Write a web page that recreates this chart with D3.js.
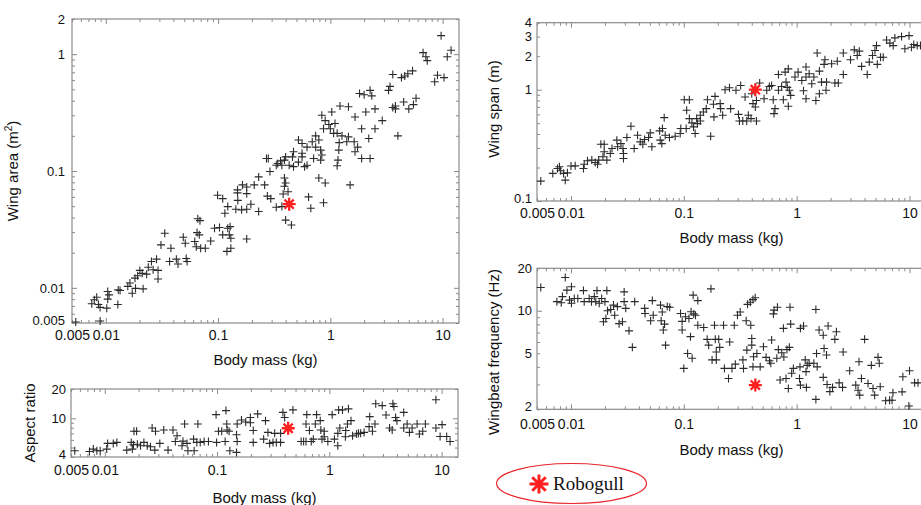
<!DOCTYPE html>
<html>
<head>
<meta charset="utf-8">
<script src="https://cdn.jsdelivr.net/npm/d3@7"></script>
<style>
  body { margin: 0; background: #fff; }
  text { font-family: "Liberation Sans", Arial, sans-serif; fill: #111; }
</style>
</head>
<body>
<svg id="fig" width="921" height="505"></svg>
<script>
// [body mass (kg), value]
const wingArea = [
  [9.7,1.44],[11.9,1.08],[11,0.95],[6.7,1.03],[7.1,0.95],[7.3,0.88],[8.5,0.58],[9.0,0.66],[10.3,0.63],
  [3.6,0.67],[4.3,0.63],[4.6,0.65],[4.9,0.68],[5.4,0.72],[3.3,0.49],[3.4,0.53],[3.8,0.36],[3.8,0.34],[3.6,0.35],
  [4.5,0.39],[5.0,0.34],[5.5,0.37],[5.8,0.42],[4.0,0.20],
  [1.82,0.46],[2.0,0.45],[2.26,0.49],[2.34,0.44],[2.07,0.32],[2.5,0.34],[2.9,0.27],[2.5,0.23],[1.9,0.23],[2.2,0.19],[1.9,0.128],[2.26,0.128],
  [1.22,0.36],[1.45,0.355],[1.03,0.32],[1.66,0.29],[0.84,0.30],[0.90,0.27],[0.97,0.25],[1.1,0.255],[1.0,0.23],[0.87,0.23],[1.07,0.21],[1.15,0.21],
  [1.27,0.20],[1.45,0.196],[1.2,0.175],[1.4,0.178],[1.63,0.178],[1.75,0.16],[1.66,0.146],[1.19,0.151],[1.15,0.111],[1.17,0.124],
  [1.5,0.076],[0.90,0.079],[0.79,0.087],
  [0.69,0.178],[0.74,0.20],[0.79,0.184],[0.62,0.16],[0.74,0.16],[0.82,0.151],[0.71,0.128],[0.84,0.137],[0.82,0.124],[0.62,0.112],[0.59,0.109],
  [0.56,0.142],[0.52,0.184],[0.56,0.172],[0.47,0.146],[0.46,0.132],[0.56,0.132],[0.52,0.119],[0.47,0.109],[0.43,0.112],[0.40,0.132],[0.39,0.124],
  [0.37,0.112],[0.34,0.116],[0.29,0.099],[0.33,0.112],[0.36,0.122],[0.27,0.128],[0.28,0.128],[0.39,0.087],[0.40,0.079],[0.39,0.074],
  [0.23,0.089],[0.21,0.076],[0.26,0.076],[0.18,0.073],[0.165,0.076],[0.149,0.069],
  [0.099,0.062],[0.11,0.058],[0.149,0.065],[0.18,0.064],[0.15,0.056],[0.196,0.052],[0.122,0.0496],[0.115,0.0435],[0.144,0.047],[0.162,0.0465],
  [0.18,0.047],[0.23,0.045],[0.275,0.061],[0.295,0.058],[0.33,0.049],[0.37,0.0496],[0.38,0.0635],[0.42,0.0665],[0.40,0.038],[0.45,0.0345],
  [0.64,0.060],[0.67,0.048],[0.87,0.0535],
  [0.066,0.039],[0.069,0.0376],[0.065,0.0297],[0.068,0.0284],[0.062,0.0249],[0.064,0.0225],[0.07,0.0218],[0.077,0.0218],[0.086,0.0252],
  [0.093,0.0324],[0.103,0.0328],[0.11,0.0284],[0.122,0.0324],[0.128,0.0334],[0.126,0.0284],[0.13,0.0266],[0.13,0.0218],[0.12,0.0205],[0.18,0.0262],
  [0.049,0.0271],[0.051,0.0241],[0.0335,0.0293],[0.031,0.0233],[0.038,0.0218],[0.0425,0.0176],[0.037,0.0168],[0.044,0.016],[0.052,0.0178],[0.053,0.0168],
  [0.0255,0.0168],[0.0283,0.0176],[0.0292,0.0141],[0.0292,0.0119],[0.0239,0.015],[0.0264,0.0143],[0.0231,0.0131],[0.0201,0.0141],[0.0192,0.0127],
  [0.0211,0.0133],[0.0182,0.0121],[0.0164,0.011],[0.0184,0.0099],[0.0215,0.0098],[0.0172,0.009],[0.0157,0.0103],[0.0134,0.0095],[0.0129,0.0096],
  [0.0107,0.0087],[0.0104,0.0093],[0.0104,0.008],[0.0102,0.0067],[0.0128,0.0072],[0.0083,0.0083],[0.0079,0.0079],[0.0075,0.0073],[0.0086,0.0072],
  [0.0089,0.0068],[0.0089,0.0052],[0.0054,0.0051]
];

const aspectRatio = [
  [0.0054,4.64],[0.0073,4.56],[0.0079,4.82],[0.0085,4.64],[0.0091,4.64],[0.0104,4.82],[0.0106,5.52],[0.0119,5.52],[0.0128,5.65],[0.0157,4.71],
  [0.0176,4.82],[0.0172,5.65],[0.0182,7.35],[0.0192,7.35],[0.018,5.35],[0.0195,5.4],[0.0208,5.22],[0.0223,5.65],[0.0239,5.22],[0.0255,5.09],
  [0.0279,4.71],[0.0264,7.94],[0.0283,7.35],[0.0309,5.52],[0.0335,7.57],[0.0366,4.71],[0.0405,7.57],[0.0425,5.78],[0.044,6.62],[0.0487,5.22],
  [0.0497,5.82],[0.0514,8.74],[0.054,5.52],[0.055,4.64],[0.0618,6.1],[0.066,5.65],[0.0675,8.74],[0.0625,4.64],[0.0708,5.65],[0.0767,5.78],[0.0838,5.78],
  [0.098,10.9],[0.103,7.35],[0.11,7.35],[0.12,12],[0.122,8.74],[0.123,7.57],[0.128,7.35],[0.118,5.78],[0.099,5.65],[0.13,4.64],[0.149,4.46],
  [0.151,5.78],[0.149,6.78],[0.151,8.74],[0.165,9.6],[0.18,9.15],[0.198,10.2],[0.198,9.0],[0.21,7.5],[0.21,5.65],[0.23,11.1],[0.26,6.1],
  [0.27,9.46],[0.284,7.16],[0.294,5.52],[0.315,5.65],[0.326,7.0],[0.337,5.65],[0.368,5.65],[0.386,11.5],[0.40,10.2],[0.368,7.0],[0.474,12.2],
  [0.561,5.78],[0.59,5.78],[0.62,5.78],[0.62,8.74],[0.63,10.9],[0.665,7.5],[0.69,5.78],[0.72,6.1],[0.75,8.74],[0.77,10.9],[0.83,9.46],[0.86,6.1],
  [0.84,7.57],[0.90,7.35],[0.90,6.46],[0.97,5.78],[1.06,10.9],[1.11,6.1],[1.19,7.0],[1.19,5.22],[1.21,12.2],[1.31,12.2],[1.48,12.5],[1.24,7.94],
  [1.4,7.5],[1.45,8.74],[1.56,9.46],[1.39,6.46],[1.61,6.6],[1.75,6.9],[1.82,7.0],[1.9,7.0],[2.04,7.16],[2.26,8.2],[2.29,10.4],[2.42,7.35],
  [2.55,8.74],[2.59,14.1],[2.96,13.5],[3.2,10.8],[3.44,7.94],[3.63,7.57],[3.68,14.1],[3.76,13.2],[3.89,10.2],[4.0,9.46],[4.6,11.5],[4.6,7.94],
  [4.93,8.74],[5.17,7.16],[5.46,7.94],[6.05,8.74],[6.34,6.9],[6.79,7.35],[7.17,8.74],[8.9,15.5],[8.9,7.94],[9.7,6.5],[10.1,8.6],[11.1,6.5],[11.9,5.78]
];

const wingSpan = [
  [0.0054,0.151],[0.0069,0.177],[0.0076,0.196],[0.0079,0.203],[0.0081,0.187],[0.0086,0.177],[0.0089,0.154],[0.0093,0.179],[0.010,0.206],
  [0.0109,0.207],[0.0129,0.196],[0.0131,0.214],[0.014,0.23],[0.0153,0.233],[0.0164,0.222],[0.0172,0.214],[0.0176,0.233],[0.0192,0.25],
  [0.0184,0.324],[0.0197,0.324],[0.0197,0.277],[0.0208,0.233],[0.0223,0.267],[0.0231,0.296],[0.0255,0.352],[0.0259,0.307],[0.0277,0.328],
  [0.0289,0.296],[0.0292,0.267],[0.0292,0.241],[0.0313,0.372],[0.034,0.47],[0.0363,0.296],[0.0389,0.39],[0.0411,0.34],[0.0433,0.324],
  [0.0449,0.357],[0.0487,0.372],[0.0504,0.409],[0.0521,0.307],[0.061,0.427],[0.0618,0.352],[0.0638,0.328],[0.0647,0.448],[0.067,0.561],
  [0.0684,0.39],[0.0746,0.372],[0.0838,0.382],[0.0929,0.404],[0.094,0.448],
  [0.101,0.813],[0.112,0.813],[0.106,0.653],[0.105,0.448],[0.112,0.55],[0.118,0.503],[0.122,0.463],[0.126,0.404],[0.13,0.55],[0.132,0.496],
  [0.14,0.524],[0.14,0.589],[0.149,0.631],[0.158,0.676],[0.162,0.813],[0.173,0.382],[0.183,0.739],[0.189,0.871],[0.185,0.57],[0.21,0.75],
  [0.212,0.676],[0.221,0.589],[0.232,1.0],[0.254,1.04],[0.26,0.676],[0.29,0.99],[0.305,0.6],[0.319,1.09],[0.311,0.524],[0.333,0.524],
  [0.349,0.86],[0.361,0.524],[0.373,0.589],[0.394,0.55],[0.40,0.92],[0.41,0.75],[0.43,0.7],[0.44,0.524],[0.44,0.8],[0.47,1.15],
  [0.514,0.83],[0.543,0.99],[0.573,1.07],[0.60,1.09],[0.62,0.813],[0.643,0.676],[0.63,0.61],[0.69,0.99],[0.736,1.07],[0.762,0.813],[0.805,1.17],
  [0.826,1.05],[0.843,0.71],[0.861,0.99],[0.885,0.89],[0.69,1.37],[0.79,1.44],[0.843,1.54],[0.966,1.3],[1.03,1.44],[1.11,1.21],[1.15,0.98],
  [1.21,0.83],[1.21,1.6],[1.21,1.3],[1.29,1.39],[1.36,1.13],[1.42,1.3],[1.48,0.8],[1.52,2.14],[1.59,0.92],[1.59,1.47],[1.66,1.17],[1.75,1.69],
  [1.78,1.86],[1.82,0.99],[1.84,1.17],[2.04,1.71],[2.18,1.15],[2.29,1.8],[2.34,1.15],[2.59,1.37],[2.59,2.14],[3.0,1.86],[3.24,2.28],[3.44,2.03],
  [3.59,2.22],[3.76,1.62],[4.22,1.37],[4.4,1.77],[4.7,2.03],[4.94,2.25],[5.1,2.49],[5.18,1.69],[5.54,1.96],[5.85,1.96],[6.26,2.8],[6.7,2.62],
  [7.17,2.49],[7.42,2.92],[8.5,3.0],[9.1,2.33],[9.9,3.06],[10.4,2.41],[10.9,2.55],[11.7,2.49],[12.5,2.49]
];

const wingbeat = [
  [0.0054,14.6],[0.0075,11.6],[0.0082,11.4],[0.0084,12.6],[0.0089,17.2],[0.0092,14.0],[0.0097,11.9],[0.0101,14.8],[0.0101,11.3],[0.0107,12.2],
  [0.0115,12.2],[0.0129,13.9],[0.0131,11.6],[0.0145,12.2],[0.0152,11.6],[0.0161,12.6],[0.0166,11.6],[0.017,13.9],[0.0178,11.3],[0.0187,12.2],
  [0.0194,8.36],[0.02,11.6],[0.0204,8.8],[0.0208,13.9],[0.0211,10.0],[0.0225,10.2],[0.0238,10.97],[0.0244,9.3],[0.0258,10.7],[0.0267,8.1],
  [0.0286,8.35],[0.0296,13.6],[0.0296,11.6],[0.0306,10.4],[0.0327,7.2],[0.035,5.5],[0.0367,11.6],[0.045,10.4],[0.0453,9.57],[0.0508,8.5],
  [0.0526,11.8],[0.0536,9.3],[0.0622,10.97],[0.063,8.5],[0.0644,9.8],[0.0658,7.3],[0.0675,8.04],[0.0689,5.7],[0.0713,10.7],[0.075,10.6],
  [0.0935,9.57],[0.0966,8.4],[0.0966,7.3],[0.1,3.9],[0.1035,9.06],[0.108,4.98],[0.111,8.8],[0.1146,6.55],[0.116,9.84],[0.1185,4.6],[0.121,12.9],
  [0.1225,9.5],[0.127,9.3],[0.133,11.8],[0.133,7.9],[0.15,7.6],[0.161,6.27],[0.166,5.7],[0.174,14.3],[0.178,4.48],[0.187,7.9],[0.19,6.27],
  [0.194,5.1],[0.194,4.48],[0.204,6.27],[0.208,5.5],[0.225,7.9],[0.229,3.9],[0.249,3.31],[0.255,6.0],[0.267,3.9],[0.28,7.9],[0.286,4.18],
  [0.299,9.3],[0.316,9.8],[0.334,4.48],[0.338,3.9],[0.357,8.5],[0.362,5.26],[0.367,11.1],[0.388,11.5],[0.392,7.9],[0.40,6.36],[0.40,5.7],
  [0.41,12.0],[0.415,4.72],[0.429,12.35],[0.41,4.0],[0.444,4.98],[0.475,4.0],[0.508,5.55],[0.536,4.67],[0.574,4.42],[0.59,4.24],[0.60,6.2],
  [0.622,9.5],[0.631,10.1],[0.667,4.6],[0.675,10.6],[0.689,5.3],[0.713,3.23],[0.738,5.03],[0.763,7.5],[0.77,4.7],[0.805,3.31],[0.82,5.3],
  [0.844,2.81],[0.861,5.5],[0.873,10.6],[0.885,8.04],[0.903,3.6],[0.935,3.9],[1.06,3.31],[1.07,4.0],[1.08,2.97],[1.08,7.5],[1.15,7.8],
  [1.19,4.48],[1.21,3.7],[1.22,2.86],[1.24,4.1],[1.29,4.24],[1.42,4.24],[1.5,4.98],[1.52,4.0],[1.48,10.2],[1.48,2.35],[1.58,7.3],[1.72,6.7],
  [1.72,3.37],[1.75,5.4],[1.84,4.85],[1.86,3.0],[1.9,7.8],[1.97,2.67],[2.08,2.86],[2.18,6.27],[2.25,7.1],[2.38,3.08],[2.55,2.86],[2.58,5.1],
  [2.95,3.75],[3.34,2.97],[3.5,2.73],[3.57,4.35],[3.62,2.52],[3.75,3.31],[4.0,6.27],[4.29,3.05],[4.59,4.1],[4.75,2.81],[4.91,2.52],[5.26,4.67],
  [5.4,4.24],[5.5,2.89],[6.14,2.3],[6.66,2.32],[7.13,2.62],[7.0,2.32],[8.73,3.4],[8.6,2.66],[10.0,3.75],[9.87,2.11],[11.1,3.08],[11.9,3.08]
];

// the Robogull (red asterisk)
const robogullMass = 0.43;
const robogullArea = 0.052;
const robogullAspect = 7.9;
const robogullSpan = 1.0;
const robogullFreq = 2.97;

const massDomain = [0.005, 14];
const massLabels = [0.005, 0.01, 0.1, 1, 10];
const areaLabels = [0.005, 0.01, 0.1, 1, 2];
const aspectLabels = [4, 10, 20];
const spanLabels = [0.1, 1, 2, 3, 4];
const freqLabels = [2, 5, 10, 20];

const svg = d3.select("#fig");
const isDecade = v => Math.abs(Math.log10(v) - Math.round(Math.log10(v))) < 1e-6;

function panel(o) {
  const g = svg.append("g");
  const x = d3.scaleLog().domain(massDomain).range([o.left, o.right]);
  const y = d3.scaleLog().domain(o.yDomain).range([o.bottom, o.top]);

  // inward tick marks on all four sides, longer at decades
  const sides = [
    [d3.axisBottom, x, "translate(0," + o.bottom + ")"],
    [d3.axisTop, x, "translate(0," + o.top + ")"],
    [d3.axisLeft, y, "translate(" + o.left + ",0)"],
    [d3.axisRight, y, "translate(" + o.right + ",0)"]
  ];
  sides.forEach(([axis, s, tr]) => {
    const all = s.ticks();
    [[all.filter(v => !isDecade(v)), 3], [all.filter(isDecade), 5]].forEach(([vals, len]) => {
      g.append("g").attr("transform", tr)
        .call(axis(s).tickValues(vals).tickSize(-len).tickFormat(""))
        .call(a => a.select(".domain").remove())
        .selectAll("line").attr("stroke", "#8a8a8a");
    });
  });

  g.append("rect")
    .attr("x", o.left).attr("y", o.top)
    .attr("width", o.right - o.left).attr("height", o.bottom - o.top)
    .attr("fill", "none").attr("stroke", "#8a8a8a").attr("stroke-width", 1.2);

  // tick labels; the lowest y label is lifted a little off the x labels
  g.append("g").attr("transform", "translate(0," + o.bottom + ")")
    .call(d3.axisBottom(x).tickValues(massLabels).tickSize(0).tickPadding(o.xPad).tickFormat(d => d))
    .call(a => a.select(".domain").remove())
    .selectAll("text").attr("font-size", 14).attr("font-family", null);
  g.append("g").attr("transform", "translate(" + o.left + ",0)")
    .call(d3.axisLeft(y).tickValues(o.yLabels).tickSize(0).tickPadding(o.yPad).tickFormat(d => d))
    .call(a => a.select(".domain").remove())
    .selectAll("text").attr("font-size", 13).attr("font-family", null)
    .attr("y", d => d === o.yDomain[0] ? -3 : 0);

  // axis titles
  g.append("text").attr("x", (o.left + o.right) / 2).attr("y", o.xTitleY)
    .attr("text-anchor", "middle").attr("font-size", 15).text("Body mass (kg)");
  const yt = g.append("text")
    .attr("transform", "translate(" + o.yTitleX + "," + o.yTitleY + ") rotate(-90)")
    .attr("text-anchor", "middle").attr("font-size", 15);
  o.yTitle(yt);

  // data
  g.selectAll("path.pt").data(o.data).join("path")
    .attr("class", "pt")
    .attr("transform", d => "translate(" + x(d[0]) + "," + y(d[1]) + ")")
    .attr("d", "M-4,0H4M0,-4V4")
    .attr("stroke", "#2b2b2b").attr("stroke-width", 1.1).attr("fill", "none");

  star(g, x(robogullMass), y(o.robo), 6.5, 2.3);
}

function star(g, cx, cy, r, w) {
  const d = r * Math.SQRT1_2;
  g.append("path")
    .attr("transform", "translate(" + cx + "," + cy + ")")
    .attr("d", `M${-r},0H${r}M0,${-r}V${r}M${-d},${-d}L${d},${d}M${-d},${d}L${d},${-d}`)
    .attr("stroke", "#ff1f1f").attr("stroke-width", w).attr("fill", "none");
}

panel({
  left: 72, right: 459, top: 19, bottom: 323,
  yDomain: [0.005, 2], yLabels: areaLabels, data: wingArea, robo: robogullArea,
  xPad: 7, yPad: 7, xTitleY: 365, yTitleX: 18, yTitleY: 171,
  yTitle: t => { t.text("Wing area (m"); t.append("tspan").attr("font-size", 10).attr("dy", -6).text("2"); t.append("tspan").attr("dy", 6).text(")"); }
});

panel({
  left: 71, right: 458, top: 389, bottom: 457,
  yDomain: [4, 20], yLabels: aspectLabels, data: aspectRatio, robo: robogullAspect,
  xPad: 8, yPad: 5, xTitleY: 503, yTitleX: 35, yTitleY: 423,
  yTitle: t => t.text("Aspect ratio")
});

panel({
  left: 537, right: 926, top: 22.7, bottom: 201,
  yDomain: [0.1, 4], yLabels: spanLabels, data: wingSpan, robo: robogullSpan,
  xPad: 7, yPad: 5, xTitleY: 243, yTitleX: 499, yTitleY: 109,
  yTitle: t => t.text("Wing span (m)")
});

panel({
  left: 537, right: 926, top: 268.3, bottom: 409.3,
  yDomain: [2, 20], yLabels: freqLabels, data: wingbeat, robo: robogullFreq,
  xPad: 10, yPad: 5, xTitleY: 455, yTitleX: 499, yTitleY: 352,
  yTitle: t => t.text("Wingbeat frequency (Hz)")
});

// legend
const leg = svg.append("g");
leg.append("ellipse").attr("cx", 571.5).attr("cy", 483.5).attr("rx", 75).attr("ry", 20)
  .attr("fill", "none").attr("stroke", "#e8262a").attr("stroke-width", 1.2);
star(leg, 539, 484, 9.5, 3);
leg.append("text").attr("x", 553).attr("y", 490)
  .attr("font-size", 19).style("font-family", "'Liberation Serif', 'Times New Roman', serif")
  .text("Robogull");
</script>
</body>
</html>
